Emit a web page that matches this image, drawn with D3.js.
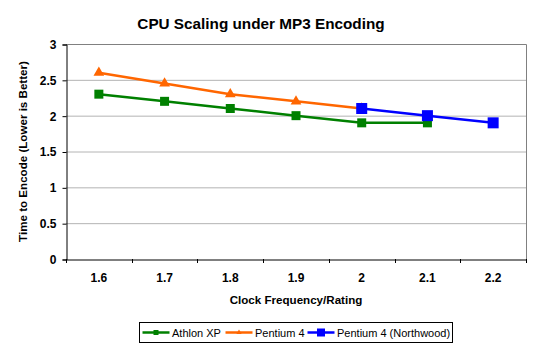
<!DOCTYPE html>
<html>
<head>
<meta charset="utf-8">
<script src="https://cdn.jsdelivr.net/npm/d3@7"></script>
<style>
  body { margin: 0; background: #fff; }
  svg { font-family: "Liberation Sans", Arial, sans-serif; }
</style>
</head>
<body>
<div id="chart"></div>
<script>
// dados
var clocks = ["1.6", "1.7", "1.8", "1.9", "2", "2.1", "2.2"];
var athlonXP = [2.3, 2.2, 2.1, 2.0, 1.9, 1.9, null];
var pentium4 = [2.6, 2.45, 2.3, 2.2, 2.1, null, null];
var northwood = [null, null, null, null, 2.1, 2.0, 1.9];
var yTicks = [0, 0.5, 1, 1.5, 2, 2.5, 3];

var series = [
  { nome: "Athlon XP", valores: athlonXP, cor: "#008000", forma: "quad", tam: 9 },
  { nome: "Pentium 4", valores: pentium4, cor: "#ff6600", forma: "tri", tam: 10 },
  { nome: "Pentium 4 (Northwood)", valores: northwood, cor: "#0000ff", forma: "quad", tam: 11 }
];

var width = 542, height = 352;
var m = { left: 66, right: 526, top: 44, bottom: 259 };

var svg = d3.select("#chart").append("svg")
  .attr("width", width)
  .attr("height", height);

var x = d3.scaleBand().domain(clocks).range([m.left, m.right]);
var y = d3.scaleLinear().domain([0, 3]).range([m.bottom, m.top]);

// grelha
svg.append("g")
  .selectAll("line")
  .data(yTicks.filter(function (t) { return t > 0 && t < 3; }))
  .enter().append("line")
  .attr("x1", m.left).attr("x2", m.right)
  .attr("y1", function (d) { return y(d) + 0.5; })
  .attr("y2", function (d) { return y(d) + 0.5; })
  .attr("stroke", "#b4b4b4");

// moldura cinzenta (topo e direita)
svg.append("path")
  .attr("d", "M" + m.left + "," + (m.top + 0.5) + "H" + (m.right + 0.5) + "V" + m.bottom)
  .attr("fill", "none")
  .attr("stroke", "#808080");

// eixo Y
var yAxis = svg.append("g")
  .attr("transform", "translate(" + (m.left + 0.5) + ",0.5)")
  .call(d3.axisLeft(y).tickValues(yTicks).tickSize(4).tickPadding(6).tickFormat(d3.format("")));
yAxis.select(".domain").attr("stroke", "#000");
yAxis.selectAll("text").attr("font-size", "12px").attr("font-weight", "bold").attr("fill", "#000");

// eixo X
var xAxis = svg.append("g")
  .attr("transform", "translate(0," + (m.bottom + 0.5) + ")")
  .call(d3.axisBottom(x).tickSize(0).tickPadding(14));
xAxis.select(".domain").attr("stroke", "#000");
xAxis.selectAll("text").attr("font-size", "12px").attr("font-weight", "bold").attr("fill", "#000");

// ticks nas fronteiras das categorias
var bordas = clocks.map(function (c) { return x(c); }).concat([x.range()[1]]);
svg.append("g").selectAll("line")
  .data(bordas)
  .enter().append("line")
  .attr("x1", function (d) { return Math.round(d) + 0.5; })
  .attr("x2", function (d) { return Math.round(d) + 0.5; })
  .attr("y1", m.bottom).attr("y2", m.bottom + 4)
  .attr("stroke", "#000");

// linhas
var linha = d3.line()
  .defined(function (d) { return d.v != null; })
  .x(function (d) { return x(d.c) + x.bandwidth() / 2; })
  .y(function (d) { return y(d.v); });

function pontos(s) {
  return clocks.map(function (c, i) { return { c: c, v: s.valores[i] }; });
}

series.forEach(function (s) {
  svg.append("path")
    .datum(pontos(s))
    .attr("d", linha)
    .attr("fill", "none")
    .attr("stroke", s.cor)
    .attr("stroke-width", 2.5);
});

function marcador(g, s, tam) {
  if (s.forma == "tri") {
    g.append("path")
      .attr("d", d3.symbol().type(d3.symbolTriangle).size(tam * tam * 0.5))
      .attr("fill", s.cor);
  } else {
    g.append("rect")
      .attr("x", -tam / 2).attr("y", -tam / 2)
      .attr("width", tam).attr("height", tam)
      .attr("fill", s.cor);
  }
}

series.forEach(function (s) {
  pontos(s).filter(function (d) { return d.v != null; }).forEach(function (d) {
    var g = svg.append("g")
      .attr("transform", "translate(" + (x(d.c) + x.bandwidth() / 2) + "," + y(d.v) + ")");
    marcador(g, s, s.tam);
  });
});

// títulos
svg.append("text")
  .attr("x", 261).attr("y", 29)
  .attr("text-anchor", "middle")
  .attr("font-size", "15.3px").attr("font-weight", "bold")
  .text("CPU Scaling under MP3 Encoding");

svg.append("text")
  .attr("x", (m.left + m.right) / 2).attr("y", 304)
  .attr("text-anchor", "middle")
  .attr("font-size", "11.6px").attr("font-weight", "bold")
  .text("Clock Frequency/Rating");

svg.append("text")
  .attr("transform", "translate(27," + ((m.top + m.bottom) / 2) + ") rotate(-90)")
  .attr("text-anchor", "middle")
  .attr("font-size", "11.6px").attr("font-weight", "bold")
  .text("Time to Encode (Lower is Better)");

// legenda
var leg = svg.append("g").attr("transform", "translate(139.5,322.5)");
leg.append("rect")
  .attr("width", 313).attr("height", 20)
  .attr("fill", "#fff").attr("stroke", "#000");

var legX = [3, 86, 168];
series.forEach(function (s, i) {
  var g = leg.append("g").attr("transform", "translate(" + legX[i] + ",10)");
  g.append("line")
    .attr("x1", 0).attr("x2", 27)
    .attr("stroke", s.cor).attr("stroke-width", 2.5);
  var mk = g.append("g").attr("transform", "translate(13.5,0)");
  marcador(mk, s, i == 2 ? 8 : 5);
  g.append("text")
    .attr("x", 29.5).attr("y", 4.5)
    .attr("font-size", "11px")
    .text(s.nome);
});
</script>
</body>
</html>
